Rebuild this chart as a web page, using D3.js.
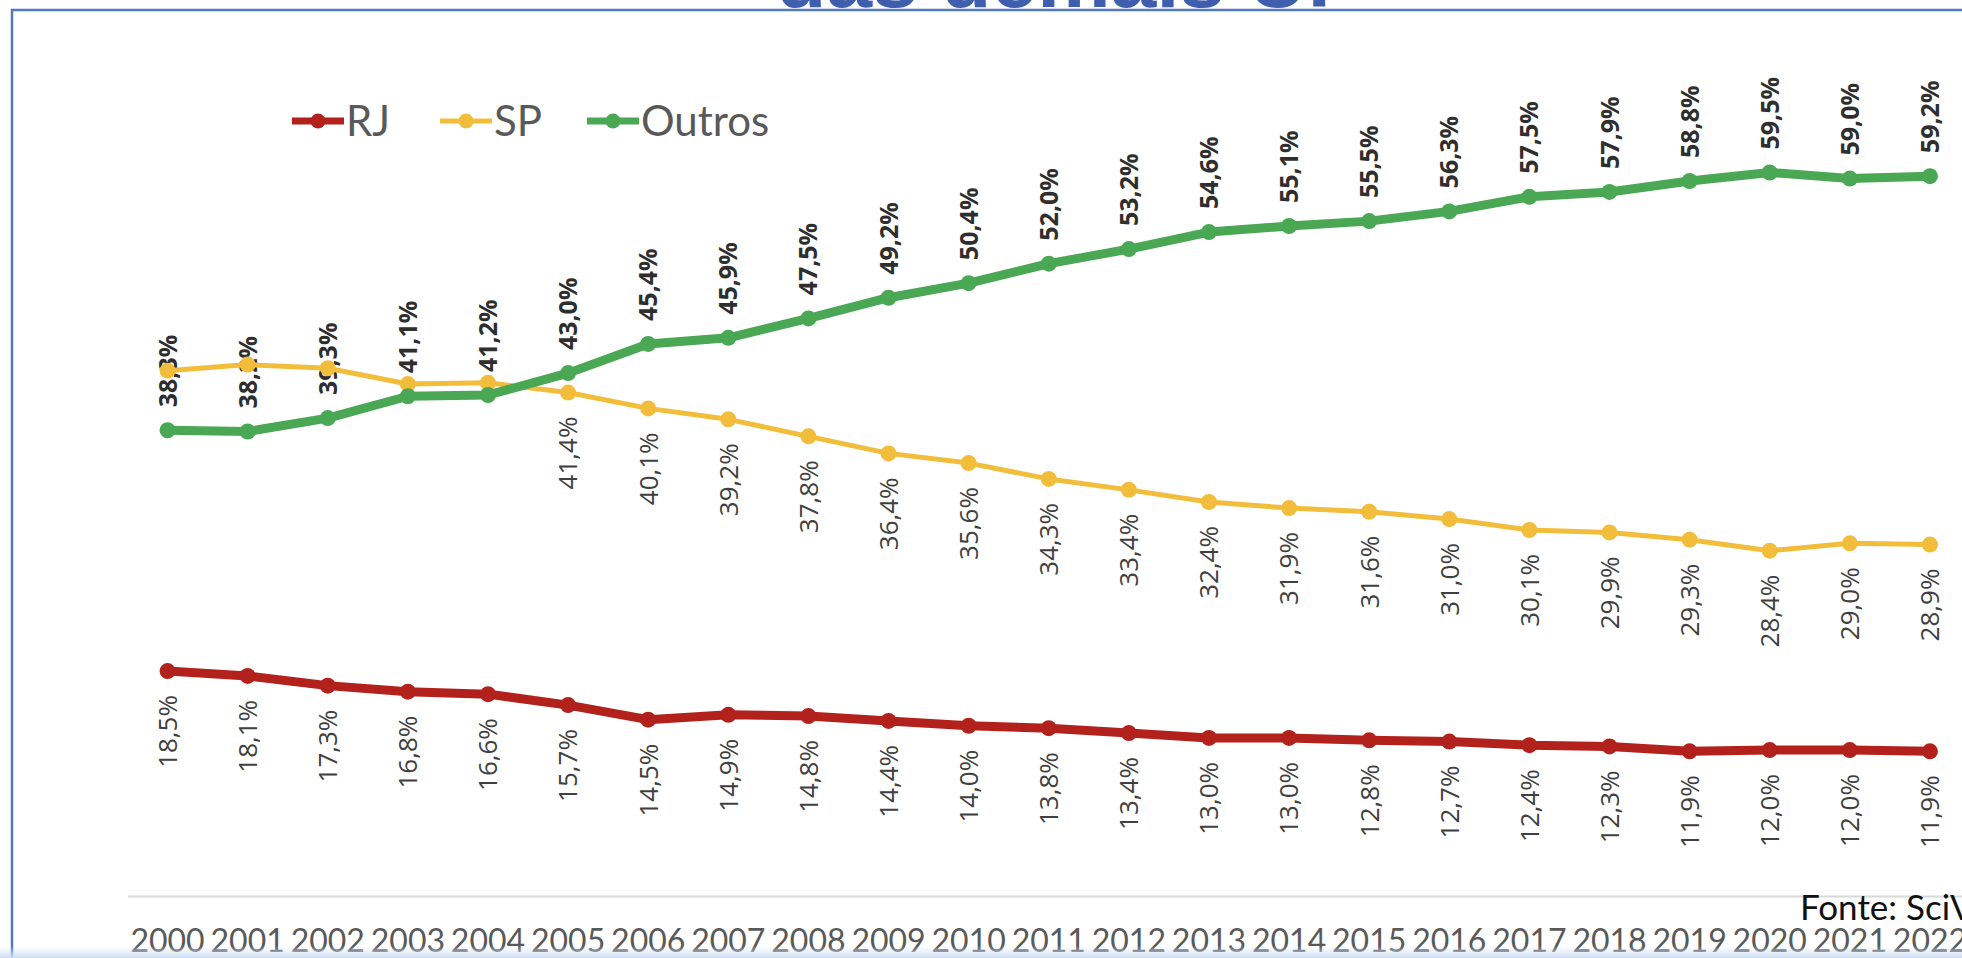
<!DOCTYPE html>
<html lang="pt">
<head>
    <meta charset="utf-8">
    <title>rj_sp_outros</title>
    <script type="text/javascript" src="https://cdn.jsdelivr.net/npm/d3@7/dist/d3.min.js"></script>
    <style type="text/css">
        body { margin: 0; background: #fff; overflow: hidden; }
        svg { display: block; }
    </style>
</head>
<body>

<script type="text/javascript">

    // Data (share of output, %)
    var years = ["2000", "2001", "2002", "2003", "2004", "2005", "2006", "2007", "2008", "2009", "2010",
        "2011", "2012", "2013", "2014", "2015", "2016", "2017", "2018", "2019", "2020", "2021", "2022"];
    var rj = [18.5, 18.1, 17.3, 16.8, 16.6, 15.7, 14.5, 14.9, 14.8, 14.4, 14.0,
        13.8, 13.4, 13.0, 13.0, 12.8, 12.7, 12.4, 12.3, 11.9, 12.0, 12.0, 11.9];
    var sp = [43.2, 43.7, 43.4, 42.1, 42.2, 41.4, 40.1, 39.2, 37.8, 36.4, 35.6,
        34.3, 33.4, 32.4, 31.9, 31.6, 31.0, 30.1, 29.9, 29.3, 28.4, 29.0, 28.9];
    var outros = [38.3, 38.2, 39.3, 41.1, 41.2, 43.0, 45.4, 45.9, 47.5, 49.2, 50.4,
        52.0, 53.2, 54.6, 55.1, 55.5, 56.3, 57.5, 57.9, 58.8, 59.5, 59.0, 59.2];

    var width = 1962, height = 958;

    var pt = d3.formatLocale({decimal: ",", thousands: ".", grouping: [3], currency: ["R$", ""]});
    var fmt = function(v) { return pt.format(".1f")(v) + "%"; };

    var series = [
        {name: "RJ", values: rj, color: "#b3211c", width: 9, r: 8, bold: false, labelPos: "below", labelFrom: 0},
        {name: "SP", values: sp, color: "#f3bd3c", width: 5, r: 8, bold: false, labelPos: "below", labelFrom: 5},
        {name: "Outros", values: outros, color: "#4aa754", width: 9, r: 8, bold: true, labelPos: "above", labelFrom: 0}
    ];

    var svg = d3.select("body")
        .append("svg")
        .attr("width", width)
        .attr("height", height);

    // slide title, mostly cut off at the top
    svg.append("text")
        .attr("x", 776)
        .attr("y", 7)
        .attr("textLength", 582)
        .attr("lengthAdjust", "spacingAndGlyphs")
        .attr("font-family", "Liberation Sans, Arial, sans-serif")
        .attr("font-weight", "bold")
        .attr("font-size", 82)
        .attr("fill", "#3f5fae")
        .text("das demais UF");

    // blue frame of the slide box
    svg.append("rect")
        .attr("x", 12)
        .attr("y", 10)
        .attr("width", 2100)
        .attr("height", 1100)
        .attr("fill", "none")
        .attr("stroke", "#5079be")
        .attr("stroke-width", 2.5);

    var x = d3.scaleBand()
        .domain(years)
        .range([127.5, 1970]);

    var y = d3.scaleLinear()
        .domain([0, 70])
        .range([896, 896 - 70 * 12.16]);

    var cx = function(i) { return x(years[i]) + x.bandwidth() / 2; };

    // category axis
    var axis = svg.append("g")
        .attr("transform", "translate(0," + y(0) + ")")
        .call(d3.axisBottom(x).tickSize(0).tickPadding(33));
    axis.select(".domain")
        .attr("stroke", "#d9d9d9")
        .attr("stroke-width", 2);
    axis.selectAll("text")
        .attr("font-family", "Lato, sans-serif")
        .attr("font-size", 32)
        .attr("fill", "#595959");

    // data labels (drawn under the series, as in the picture)
    var labels = svg.append("g");
    series.forEach(function(s) {
        var idx = d3.range(s.labelFrom, s.values.length);
        labels.selectAll("text.l-" + s.name)
            .data(idx)
            .enter()
            .append("text")
            .attr("class", "l-" + s.name)
            .attr("transform", function(i) {
                var yy = y(s.values[i]) + (s.labelPos === "above" ? -23 : 24);
                return "translate(" + cx(i) + "," + yy + ") rotate(-90)";
            })
            .attr("text-anchor", s.labelPos === "above" ? "start" : "end")
            .attr("dy", "0.36em")
            .attr("font-family", "Open Sans, sans-serif")
            .attr("font-size", s.bold ? 25 : 26)
            .attr("font-weight", s.bold ? "bold" : "normal")
            .attr("fill", s.bold ? "#2e2e2e" : "#404040")
            .text(function(i) { return fmt(s.values[i]); });
    });

    // lines and markers
    series.forEach(function(s) {
        var line = d3.line()
            .x(function(d, i) { return cx(i); })
            .y(function(d) { return y(d); });
        svg.append("path")
            .datum(s.values)
            .attr("d", line)
            .attr("fill", "none")
            .attr("stroke", s.color)
            .attr("stroke-width", s.width)
            .attr("stroke-linejoin", "round");
        svg.append("g")
            .selectAll("circle")
            .data(s.values)
            .enter()
            .append("circle")
            .attr("cx", function(d, i) { return cx(i); })
            .attr("cy", function(d) { return y(d); })
            .attr("r", s.r)
            .attr("fill", s.color);
    });

    // legend
    var legendX = [292, 440, 587];
    var legend = svg.append("g")
        .selectAll("g")
        .data(series)
        .enter()
        .append("g")
        .attr("transform", function(d, i) { return "translate(" + legendX[i] + ",121)"; });
    legend.append("line")
        .attr("x1", 0)
        .attr("x2", 52)
        .attr("stroke", function(d) { return d.color; })
        .attr("stroke-width", function(d) { return d.name === "SP" ? 5 : 7; });
    legend.append("circle")
        .attr("cx", 26)
        .attr("r", 7.5)
        .attr("fill", function(d) { return d.color; });
    legend.append("text")
        .attr("x", 54)
        .attr("dy", "0.36em")
        .attr("font-family", "Lato, sans-serif")
        .attr("font-size", 42)
        .attr("fill", "#595959")
        .text(function(d) { return d.name; });

    // source
    svg.append("text")
        .attr("x", 1800)
        .attr("y", 920)
        .attr("font-family", "Lato, sans-serif")
        .attr("font-size", 35)
        .attr("fill", "#111111")
        .text("Fonte: SciVal");

    // light blue strip at the bottom edge of the screenshot
    var grad = svg.append("defs").append("linearGradient")
        .attr("id", "strip")
        .attr("x1", 0).attr("y1", 0).attr("x2", 0).attr("y2", 1);
    grad.append("stop").attr("offset", "0%").attr("stop-color", "#dce8f6").attr("stop-opacity", 0);
    grad.append("stop").attr("offset", "100%").attr("stop-color", "#cadcf2").attr("stop-opacity", 1);
    svg.append("rect")
        .attr("x", 0)
        .attr("y", 946)
        .attr("width", width)
        .attr("height", 12)
        .attr("fill", "url(#strip)");

</script>
</body>
</html>
